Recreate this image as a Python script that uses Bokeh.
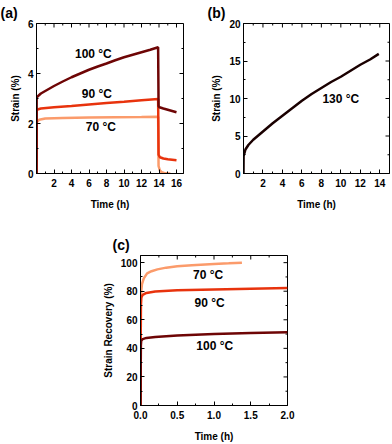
import math
from bokeh.plotting import figure
from bokeh.models import FixedTicker, Range1d, Spacer
from bokeh.layouts import column, row
from bokeh.embed import file_html
from bokeh.resources import INLINE
from bokeh.core.properties import value

# ---------------- data ----------------
# (a) creep + recovery strain
a_t100 = [0, 0.02, 0.5, 1, 2, 3, 4, 5, 6, 7, 8, 9, 10, 11, 12, 13, 13.9, 13.95, 14.05, 14.5, 15, 15.5, 16]
a_s100 = [0, 3.05, 3.2, 3.3, 3.5, 3.68, 3.85, 4.0, 4.15, 4.28, 4.4, 4.53, 4.65, 4.75, 4.85, 4.95, 5.05, 2.7, 2.65, 2.6, 2.55, 2.5, 2.45]
a_t90 = [0, 0.02, 0.5, 2, 4, 6, 8, 10, 12, 13.9, 13.95, 14.1, 14.5, 15, 16]
a_s90 = [0, 2.55, 2.6, 2.65, 2.7, 2.76, 2.82, 2.87, 2.93, 2.98, 0.75, 0.65, 0.6, 0.57, 0.53]
a_t70 = [0, 0.03, 0.3, 1, 3, 6, 9, 12, 13.9, 13.95, 14.1, 14.3, 14.6, 15, 15.3]
a_s70 = [0, 2.05, 2.15, 2.2, 2.22, 2.24, 2.25, 2.26, 2.27, 0.3, 0.12, 0.05, 0.02, 0, 0]
a_labels = ["100 °C", "90 °C", "70 °C"]
a_label_x = [6.5, 6.9, 7.35]
a_label_y = [4.8, 3.2, 1.85]
a_xrange = (0, 16.8)
a_yrange = (0, 6)

# (b) creep strain at 130 °C
b_t = [0, 0.01, 0.2, 0.5, 1, 2, 3, 4, 5, 6, 7, 8, 9, 10, 11, 12, 13, 13.9]
b_s = [0, 2.3, 3.2, 3.8, 4.5, 5.6, 6.7, 7.7, 8.7, 9.7, 10.6, 11.4, 12.2, 12.9, 13.7, 14.5, 15.2, 15.95]
b_labels = ["130 °C"]
b_label_x = [10.0]
b_label_y = [9.9]
b_xrange = (0, 15)
b_yrange = (0, 20)

# (c) strain recovery
c_t70 = [0, 0.005, 0.01, 0.02, 0.045, 0.09, 0.15, 0.23, 0.35, 0.5, 0.7, 1.0, 1.2, 1.38]
c_r70 = [0, 70, 80, 85, 89, 92.5, 94, 95.3, 96.5, 97.5, 98.2, 99, 99.5, 100]
c_t90 = [0, 0.005, 0.01, 0.03, 0.08, 0.2, 0.5, 1.0, 1.5, 2.0]
c_r90 = [0, 70, 75.5, 77.5, 78.8, 79.8, 80.6, 81.2, 81.7, 82.2]
c_t100 = [0, 0.005, 0.01, 0.03, 0.08, 0.2, 0.5, 1.0, 1.5, 2.0]
c_r100 = [0, 42, 45.5, 46.5, 47.3, 48.0, 49.0, 50.0, 50.7, 51.3]
c_labels = ["70 °C", "90 °C", "100 °C"]
c_label_x = [0.92, 0.94, 1.01]
c_label_y = [91.5, 72, 42]
c_xrange = (0, 2.0)
c_yrange = (0, 105)

# ticks
a_xticks = [0, 2, 4, 6, 8, 10, 12, 14, 16]
a_xminor = [1, 3, 5, 7, 9, 11, 13, 15]
a_yticks = [0, 2, 4, 6]
a_yminor = [1, 3, 5]
b_xticks = [0, 2, 4, 6, 8, 10, 12, 14]
b_xminor = [1, 3, 5, 7, 9, 11, 13]
b_yticks = [0, 5, 10, 15, 20]
b_yminor = [2.5, 7.5, 12.5, 17.5]
c_xticks = [0, 0.5, 1.0, 1.5, 2.0]
c_xminor = [0.25, 0.75, 1.25, 1.75]
c_yticks = [0, 20, 40, 60, 80, 100]
c_yminor = [10, 30, 50, 70, 90]

FONT = "Liberation Sans"
C100 = "#6e0505"
C90 = "#e8330d"
C70 = "#fb9b6b"


def style_axis(ax, ticks, minor, label, label_standoff, title_standoff, overrides=None):
    ax.ticker = FixedTicker(ticks=ticks, minor_ticks=minor)
    ax.major_tick_in = 4
    ax.major_tick_out = 0
    ax.minor_tick_in = 2
    ax.minor_tick_out = 0
    ax.major_tick_line_color = "black"
    ax.minor_tick_line_color = "black"
    ax.axis_line_color = "black"
    ax.major_label_text_font = FONT
    ax.major_label_text_font_style = "bold"
    ax.major_label_text_color = "black"
    ax.major_label_text_font_size = "10px"
    ax.major_label_standoff = label_standoff
    if overrides:
        ax.major_label_overrides = overrides
    ax.axis_label = label
    ax.axis_label_text_font = FONT
    ax.axis_label_text_font_style = "bold"
    ax.axis_label_text_font_size = "10px"
    ax.axis_label_text_color = "black"
    ax.axis_label_standoff = title_standoff


def make_fig(w, h, xr, yr, bl, br, bt, bb, xt, xm, yt, ym, xlabel, ylabel, panel, panel_offset, xover=None):
    p = figure(width=w, height=h, x_range=Range1d(*xr), y_range=Range1d(*yr),
               output_backend="svg", toolbar_location=None, title=panel,
               min_border_left=bl, min_border_right=br, min_border_top=bt, min_border_bottom=bb)
    p.title.align = "left"
    p.title.offset = panel_offset
    p.title.standoff = 5
    p.title.text_font = FONT
    p.title.text_font_style = "bold"
    p.title.text_font_size = "14px"
    p.title.text_color = "black"
    p.grid.visible = False
    p.outline_line_color = "black"
    p.outline_line_width = 1
    p.background_fill_color = "white"
    p.border_fill_color = "white"
    style_axis(p.xaxis[0], xt, xm, xlabel, 5, 9, xover)
    style_axis(p.yaxis[0], yt, ym, ylabel, 3, 4)
    # mirrored inward ticks on top and right edges (half of each dash is clipped by the frame)
    p.scatter(xt, [yr[1]] * len(xt), marker="dash", angle=math.pi / 2, size=8,
              line_color="black", line_width=1)
    p.scatter(xm, [yr[1]] * len(xm), marker="dash", angle=math.pi / 2, size=4,
              line_color="black", line_width=1)
    p.scatter([xr[1]] * len(yt), yt, marker="dash", size=8, line_color="black", line_width=1)
    p.scatter([xr[1]] * len(ym), ym, marker="dash", size=4, line_color="black", line_width=1)
    return p


def curve_labels(p, xs, ys, texts):
    p.text(x=xs, y=ys, text=texts, text_font=value(FONT), text_font_style="bold",
           text_font_size="12px", text_align="center", text_baseline="middle", text_color="black")


# ---------------- (a) ----------------
pa = make_fig(196, 212, a_xrange, a_yrange, 36, 13, 22, 35,
              a_xticks, a_xminor, a_yticks, a_yminor, "Time (h)", "Strain (%)", "(a)", -36, {0: ""})
pa.line(a_t70, a_s70, line_color=C70, line_width=2.5)
pa.line(a_t90, a_s90, line_color=C90, line_width=2.5)
pa.line(a_t100, a_s100, line_color=C100, line_width=2.5)
curve_labels(pa, a_label_x, a_label_y, a_labels)

# ---------------- (b) ----------------
pb = make_fig(196, 212, b_xrange, b_yrange, 47, 3, 22, 35,
              b_xticks, b_xminor, b_yticks, b_yminor, "Time (h)", "Strain (%)", "(b)", -36, {0: ""})
pb.line(b_t, b_s, line_color="#1a0000", line_width=2.5)
curve_labels(pb, b_label_x, b_label_y, b_labels)

# ---------------- (c) ----------------
pc = make_fig(201, 232, c_xrange, c_yrange, 40, 13, 43, 35,
              c_xticks, c_xminor, c_yticks, c_yminor, "Time (h)", "Strain Recovery (%)", "(c)", -28,
              {0: "0.0", 0.5: "0.5", 1.0: "1.0", 1.5: "1.5", 2.0: "2.0"})
pc.line(c_t70, c_r70, line_color=C70, line_width=2.5)
pc.line(c_t90, c_r90, line_color=C90, line_width=2.5)
pc.line(c_t100, c_r100, line_color=C100, line_width=2.5)
curve_labels(pc, c_label_x, c_label_y, c_labels)

layout = column(row(pa, pb), row(Spacer(width=99, height=232), pc))

open("out.html", "w").write(file_html(layout, INLINE))
